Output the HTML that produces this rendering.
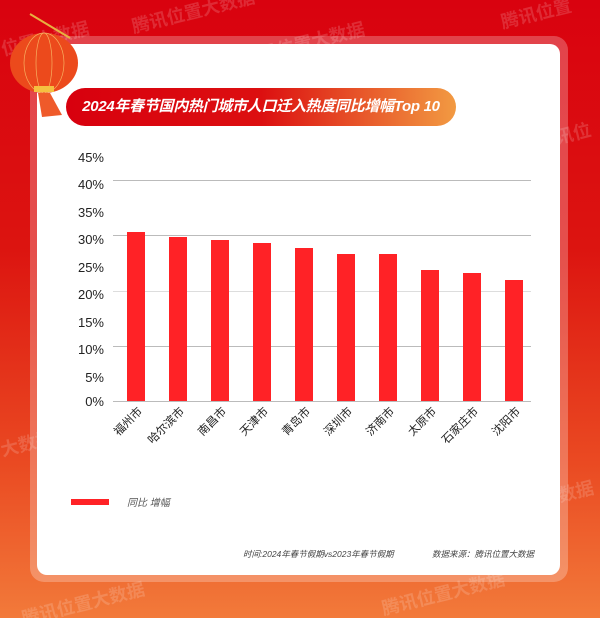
<!DOCTYPE html><html><head><meta charset="utf-8"><style>
body{margin:0;width:600px;height:618px;overflow:hidden;font-family:"Liberation Sans","Noto Sans CJK SC",sans-serif;}
#bg{position:absolute;left:0;top:0;width:600px;height:618px;background:linear-gradient(180deg,#d9020f 0%,#dc1410 40%,#ea4a22 75%,#f27a3a 100%);}
.wm{position:absolute;color:rgba(255,255,255,0.16);font-size:18px;font-weight:bold;transform:rotate(-14deg);white-space:nowrap}
#frame{position:absolute;left:30px;top:36px;width:538px;height:546px;background:rgba(255,255,255,0.25);border-radius:14px}
#card{position:absolute;left:37px;top:44px;width:523px;height:531px;background:#fff;border-radius:10px}
#title{position:absolute;left:66px;top:88px;width:390px;height:38px;border-radius:19px;background:linear-gradient(90deg,#d8000e 0%,#dc0f10 50%,#f29a42 100%);color:#fff;font-size:15px;font-weight:bold;font-style:italic;line-height:38px;text-align:center;white-space:nowrap;letter-spacing:-0.3px}
</style></head><body>
<div id="bg"></div>
<div class="wm" style="left:0px;top:25px">位置大数据</div>
<div class="wm" style="left:130px;top:-2px">腾讯位置大数据</div>
<div class="wm" style="left:240px;top:30px">腾讯位置大数据</div>
<div class="wm" style="left:500px;top:0px">腾讯位置</div>
<div class="wm" style="left:555px;top:120px">讯位</div>
<div class="wm" style="left:0px;top:430px">大数据</div>
<div class="wm" style="left:540px;top:480px">大数据</div>
<div class="wm" style="left:20px;top:590px">腾讯位置大数据</div>
<div class="wm" style="left:380px;top:580px">腾讯位置大数据</div>
<div id="frame"></div>
<div id="card"></div>
<div id="title">2024年春节国内热门城市人口迁入热度同比增幅Top 10</div>
<svg style="position:absolute;left:0;top:0" width="600" height="618">
<line x1="30" y1="14" x2="70" y2="38" stroke="#e8b040" stroke-width="2"/>
<ellipse cx="44" cy="63" rx="34" ry="30" fill="#ec4a1c"/>
<ellipse cx="44" cy="63" rx="20" ry="30" fill="none" stroke="#f7b060" stroke-width="0.7"/>
<ellipse cx="44" cy="63" rx="8" ry="30" fill="none" stroke="#f7b060" stroke-width="0.7"/>
<rect x="34" y="86" width="20" height="6" fill="#f5c040"/>
<path d="M38 93 L50 93 L62 115 L42 117 Z" fill="#ef5a2a"/>
<g font-size="13" fill="#222" text-anchor="end" font-family="Liberation Sans,sans-serif">
<text x="104" y="162">45%</text><text x="104" y="189">40%</text><text x="104" y="217">35%</text><text x="104" y="244">30%</text><text x="104" y="272">25%</text><text x="104" y="299">20%</text><text x="104" y="327">15%</text><text x="104" y="354">10%</text><text x="104" y="382">5%</text><text x="104" y="406">0%</text>
</g>
<g stroke="#bbb" stroke-width="1">
<line x1="113" y1="180.5" x2="531" y2="180.5"/><line x1="113" y1="235.5" x2="531" y2="235.5"/><line x1="113" y1="291.5" x2="531" y2="291.5" stroke="#ddd"/><line x1="113" y1="346.5" x2="531" y2="346.5"/><line x1="113" y1="401.5" x2="531" y2="401.5"/>
</g>
<g fill="#ff2226">
<rect x="127" y="232" width="18" height="169"/><rect x="169" y="237" width="18" height="164"/><rect x="211" y="240" width="18" height="161"/><rect x="253" y="243" width="18" height="158"/><rect x="295" y="248" width="18" height="153"/><rect x="337" y="254" width="18" height="147"/><rect x="379" y="254" width="18" height="147"/><rect x="421" y="270" width="18" height="131"/><rect x="463" y="273" width="18" height="128"/><rect x="505" y="280" width="18" height="121"/>
</g>
<g font-size="11.5" fill="#222" text-anchor="end">
<text transform="translate(143,412) rotate(-45)">福州市</text>
<text transform="translate(185,412) rotate(-45)">哈尔滨市</text>
<text transform="translate(227,412) rotate(-45)">南昌市</text>
<text transform="translate(269,412) rotate(-45)">天津市</text>
<text transform="translate(311,412) rotate(-45)">青岛市</text>
<text transform="translate(353,412) rotate(-45)">深圳市</text>
<text transform="translate(395,412) rotate(-45)">济南市</text>
<text transform="translate(437,412) rotate(-45)">太原市</text>
<text transform="translate(479,412) rotate(-45)">石家庄市</text>
<text transform="translate(521,412) rotate(-45)">沈阳市</text>
</g>
<rect x="71" y="499" width="38" height="6" fill="#ff2226"/>
<text x="127" y="506" font-size="10" fill="#555" font-style="italic">同比 增幅</text>
<text x="243" y="557" font-size="8.5" fill="#444" font-style="italic">时间:2024年春节假期vs2023年春节假期</text>
<text x="432" y="557" font-size="8.5" fill="#444" font-style="italic">数据来源：腾讯位置大数据</text>
</svg>
</body></html>
